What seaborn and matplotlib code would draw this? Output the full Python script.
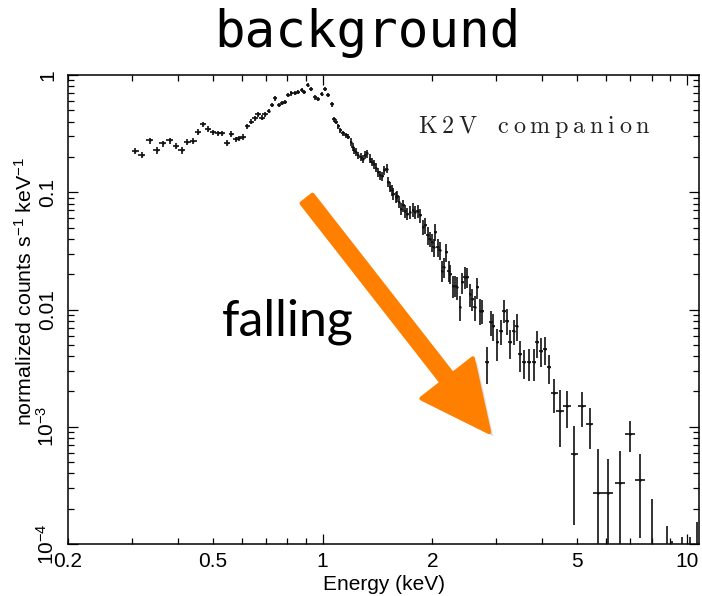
import numpy as np
import pandas as pd
import matplotlib
matplotlib.use("Agg")
import matplotlib.pyplot as plt
import matplotlib.patheffects as pe
from matplotlib import font_manager
from matplotlib.ticker import FixedLocator, FixedFormatter, NullFormatter, LogLocator
import seaborn as sns

# ---------------------------------------------------------------- spectrum data
energy_kev = [
    0.3057, 0.3189, 0.3349, 0.3508, 0.3644, 0.3803, 0.3959, 0.4106, 0.4246, 0.4410,
    0.4553, 0.4700, 0.4852, 0.5000, 0.5162, 0.5305, 0.5455, 0.5617, 0.5776, 0.5898,
    0.6050, 0.6218, 0.6378, 0.6517, 0.6655, 0.6813, 0.6958, 0.7107, 0.7261, 0.7416,
    0.7573, 0.7739, 0.7869, 0.8039, 0.8210, 0.8385, 0.8567, 0.8750, 0.8901, 0.9089,
    0.9283, 0.9522, 0.9730, 0.9936, 1.0147, 1.0369, 1.0589, 1.0773, 1.0910, 1.1050,
    1.1191, 1.1379, 1.1576, 1.1776,
    1.1949, 1.2079, 1.2203, 1.2335, 1.2517, 1.2710, 1.2873, 1.3063, 1.3256, 1.3485,
    1.3632, 1.3832, 1.4009, 1.4216, 1.4371, 1.4583, 1.4770, 1.4997, 1.5151, 1.5315,
    1.5482, 1.5640, 1.5881, 1.6043, 1.6217, 1.6425, 1.6667, 1.6848, 1.7097, 1.7393,
    1.7694, 1.7955, 1.8220, 1.8536,
    1.8857, 1.9135, 1.9417, 1.9666, 1.9969, 2.0173, 2.0392, 2.0693, 2.0958, 2.1281,
    2.1499, 2.1871, 2.2194, 2.2436, 2.2825, 2.3161, 2.3413, 2.3804, 2.4171, 2.4527,
    2.4952, 2.5368, 2.5759, 2.6139, 2.6592, 2.7036, 2.7452,
    2.8213, 2.8940, 2.9441, 3.0199, 3.0839, 3.1493, 3.2038, 3.2718, 3.3433, 3.4077,
    3.4866, 3.5765, 3.6920, 3.7968, 3.8774, 3.9773, 4.0796, 4.1926, 4.3282, 4.4879,
    4.6921, 4.9144, 5.1613, 5.4064, 5.7030, 6.0896, 6.5583, 6.9822, 7.4300,
    8.040, 8.844, 9.130, 9.686, 10.17, 10.66,
]

norm_counts = [
    0.2241, 0.2071, 0.2766, 0.2286, 0.2607, 0.2766, 0.2506, 0.2286, 0.2691, 0.2745,
    0.3276, 0.3790, 0.3455, 0.3237, 0.3174, 0.3174, 0.2638, 0.3131, 0.2821, 0.2877,
    0.2970, 0.3665, 0.3990, 0.4265, 0.4614, 0.4315, 0.4614, 0.4925, 0.5541, 0.6322,
    0.5541, 0.5797, 0.5913, 0.6746, 0.6976, 0.7058, 0.7199, 0.7441, 0.7199, 0.8211,
    0.7590, 0.6447, 0.6235, 0.6880, 0.7590, 0.6746, 0.5618, 0.4181, 0.3990, 0.3665,
    0.3388, 0.3174, 0.3070, 0.2970,
    0.2691, 0.2438, 0.2286, 0.2211, 0.2071, 0.2003, 0.1941, 0.2071, 0.2142, 0.1941,
    0.1815, 0.1735, 0.1626, 0.1491, 0.1397, 0.1370, 0.1542, 0.1594, 0.1225, 0.1110,
    0.1040, 0.0975, 0.0912, 0.0924, 0.0826, 0.0726, 0.0774, 0.0692, 0.0658, 0.0679,
    0.0711, 0.0679, 0.0692, 0.0636,
    0.0505, 0.0522, 0.0429, 0.0402, 0.0376, 0.0341, 0.0458, 0.0341, 0.0319, 0.0215,
    0.0230, 0.0309, 0.0215, 0.0202, 0.0160, 0.0160, 0.0155, 0.01046, 0.0171, 0.0189,
    0.0189, 0.0136, 0.0123, 0.01046, 0.0155, 0.0098, 0.0098,
    0.00354, 0.00779, 0.00730, 0.00525, 0.00661, 0.0098, 0.00805, 0.00525, 0.00661, 0.0073,
    0.00418, 0.00354, 0.00354, 0.00354, 0.00525, 0.00446, 0.00461, 0.00321, 0.00194, 0.00137,
    0.00151, 0.000584, 0.00149, 0.00105, 0.000274, 0.000274, 0.000334, 0.000866, 0.000350,
    5e-5, 3e-5, 2e-5, 2e-5, 2e-5, 3e-5,
]

# 1-sigma uncertainty as a fraction of each rate
counts_err_frac = [
    0.06, 0.06, 0.06, 0.065, 0.06, 0.06, 0.06, 0.065, 0.06, 0.06,
    0.055, 0.055, 0.055, 0.055, 0.055, 0.055, 0.06, 0.055, 0.055, 0.055,
    0.055, 0.05, 0.05, 0.05, 0.05, 0.05, 0.05, 0.045, 0.045, 0.045,
    0.045, 0.045, 0.045, 0.045, 0.045, 0.045, 0.045, 0.045, 0.045, 0.045,
    0.045, 0.045, 0.045, 0.045, 0.045, 0.045, 0.045, 0.05, 0.05, 0.05,
    0.05, 0.05, 0.05, 0.05,
    0.07, 0.07, 0.07, 0.075, 0.075, 0.08, 0.08, 0.08, 0.08, 0.085,
    0.085, 0.085, 0.09, 0.09, 0.09, 0.095, 0.09, 0.09, 0.10, 0.10,
    0.105, 0.11, 0.11, 0.11, 0.115, 0.12, 0.12, 0.12, 0.125, 0.125,
    0.13, 0.13, 0.135, 0.14,
    0.15, 0.16, 0.17, 0.15, 0.18, 0.17, 0.16, 0.18, 0.17, 0.20,
    0.19, 0.17, 0.20, 0.19, 0.21, 0.20, 0.22, 0.24, 0.20, 0.21,
    0.19, 0.22, 0.21, 0.24, 0.20, 0.25, 0.23,
    0.35, 0.24, 0.26, 0.30, 0.24, 0.22, 0.25, 0.28, 0.24, 0.26,
    0.30, 0.28, 0.30, 0.30, 0.26, 0.27, 0.27, 0.28, 0.33, 0.51,
    0.35, 0.75, 0.33, 0.38, 1.37, 0.95, 0.87, 0.30, 0.68,
    3.84, 3.77, 4.3, 4.75, 4.75, 4.13,
]

# channel half-width as a fraction of the bin energy
energy_halfwidth_frac = (
    [0.022] * 10 + [0.018] * 17 + [0.012] * 27 + [0.008] * 61
    + [0.012] * 18 + [0.024] * 6 + [0.032] * 5 + [0.03] * 6
)

x_major_ticks = [1, 10]
x_major_labels = ["1", "10"]
x_minor_ticks = [0.2, 0.3, 0.4, 0.5, 0.6, 0.7, 0.8, 0.9, 2, 3, 4, 5, 6, 7, 8, 9]
x_minor_labels = ["0.2", "", "", "0.5", "", "", "", "", "2", "", "", "5", "", "", "", ""]
y_major_ticks = [1e-4, 1e-3, 1e-2, 0.1, 1]
y_major_labels = [r"$10^{-4}$", r"$10^{-3}$", "0.01", "0.1", "1"]

spec = pd.DataFrame({"energy": energy_kev, "rate": norm_counts})
spec["rate_err"] = spec["rate"] * np.array(counts_err_frac)
spec["energy_err"] = spec["energy"] * np.array(energy_halfwidth_frac)
# keep lower bars positive on the log axis
spec["rate_err_lo"] = np.minimum(spec["rate_err"], spec["rate"] * 0.999999)

# ---------------------------------------------------------------- style
sns.set_theme(style="ticks")
available = {f.name for f in font_manager.fontManager.ttflist}
tick_family = "Liberation Sans Narrow" if "Liberation Sans Narrow" in available else "Liberation Sans"
plt.rcParams["font.family"] = ["Liberation Sans", "DejaVu Sans"]
plt.rcParams["mathtext.fontset"] = "custom"
plt.rcParams["mathtext.rm"] = "Liberation Sans"
plt.rcParams["mathtext.it"] = "Liberation Sans:italic"
plt.rcParams["mathtext.bf"] = "Liberation Sans:bold"
plt.rcParams["axes.edgecolor"] = "black"
plt.rcParams["axes.linewidth"] = 1.1

fig = plt.figure(figsize=(7.02, 5.96), dpi=100)
ax = fig.add_axes([0.0969, 0.0872, 0.8989, 0.7869])
ax.set_xscale("log")
ax.set_yscale("log")

ax.errorbar(
    spec["energy"], spec["rate"],
    xerr=spec["energy_err"],
    yerr=[spec["rate_err_lo"], spec["rate_err"]],
    fmt="none", ecolor="#111111", elinewidth=1.2, capsize=0, zorder=3,
)
sns.scatterplot(data=spec, x="energy", y="rate", ax=ax, s=3, color="#111111",
                linewidth=0, legend=False, zorder=4)

ax.set_xlim(0.2, 10.8)
ax.set_ylim(1e-4, 1)

# ticks on all four sides, pointing inward
ax.xaxis.set_major_locator(FixedLocator(x_major_ticks))
ax.xaxis.set_major_formatter(FixedFormatter(x_major_labels))
ax.xaxis.set_minor_locator(FixedLocator(x_minor_ticks))
ax.xaxis.set_minor_formatter(FixedFormatter(x_minor_labels))
ax.yaxis.set_major_locator(FixedLocator(y_major_ticks))
ax.yaxis.set_major_formatter(FixedFormatter(y_major_labels))
ax.yaxis.set_minor_locator(LogLocator(base=10, subs=np.arange(2, 10)))
ax.yaxis.set_minor_formatter(NullFormatter())

ax.tick_params(which="both", direction="in", top=True, right=True, colors="black",
               labelsize=15, width=0.9)
ax.tick_params(which="major", length=7)
ax.tick_params(which="minor", length=4)
ax.tick_params(axis="x", which="both", pad=6)
ax.tick_params(axis="y", which="both", pad=7.5, labelrotation=90)
for lab in ax.get_xticklabels(which="both") + ax.get_yticklabels():
    lab.set_fontfamily([tick_family, "DejaVu Sans"])
for lab in ax.get_yticklabels():
    lab.set_va("center")

ax.set_xlabel("Energy (keV)", fontsize=15, color="black")
ax.set_ylabel(r"normalized counts s$^{-1}$ keV$^{-1}$", fontsize=15.4, color="black")
ax.xaxis.set_label_coords(0.5, -0.066)
ax.yaxis.set_label_coords(-0.051, 0.539)

# ---------------------------------------------------------------- annotations
fig.text(0.524, 0.921, "background", ha="center", va="baseline",
         fontsize=36.6, family="DejaVu Sans Mono", color="black")

ax.text(0.5547, 0.8763, r"$\mathrm{K\:2\:V\quad c\:o\:m\:p\:a\:n\:i\:o\:n}$",
        transform=ax.transAxes, fontsize=17.4, math_fontfamily="cm",
        color="#222222", ha="left", va="baseline")

ax.text(0.244, 0.4456, "falling", transform=ax.transAxes, fontsize=36,
        family="Lato", color="black", ha="left", va="baseline")

shadow = [
    pe.SimplePatchShadow(offset=(1.5, -1.5), shadow_rgbFace="black", alpha=0.10),
    pe.SimplePatchShadow(offset=(2.5, -2.5), shadow_rgbFace="black", alpha=0.10),
    pe.SimplePatchShadow(offset=(3.5, -3.5), shadow_rgbFace="black", alpha=0.07),
    pe.Normal(),
]
ax.annotate(
    "", xy=(0.6672, 0.2388), xytext=(0.3788, 0.7356),
    xycoords="axes fraction", textcoords="axes fraction",
    arrowprops=dict(
        arrowstyle="simple,head_length=49,head_width=47,tail_width=10",
        mutation_scale=1, fc="#FF8000", ec="#FF8000", lw=3,
        joinstyle="round", shrinkA=0, shrinkB=0, path_effects=shadow,
    ),
    zorder=5,
)

fig.savefig("out.png", dpi=100)
